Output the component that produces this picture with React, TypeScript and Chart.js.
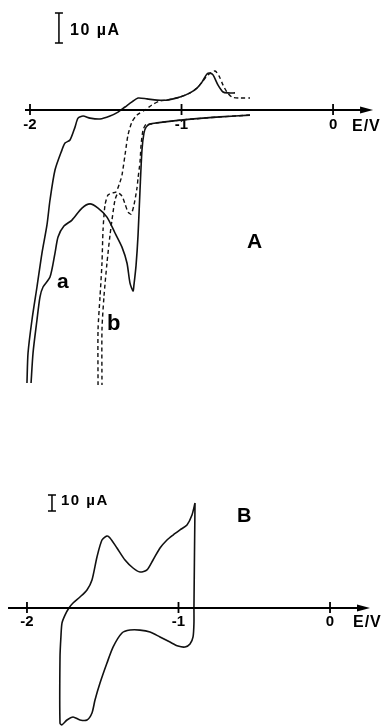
import React, { useEffect, useRef } from 'react';
import { Chart, registerables } from 'chart.js';

Chart.register(...registerables);

const FONT = '"Liberation Sans", Arial, Helvetica, sans-serif';

// Axis ticks (E / V)
const TICK_VALUES = [-2, -1, 0];
const TICK_LABELS = ['-2', '-1', '0'];

// ---------- Panel A ----------
// curve a (solid), cathodic scan
const A_CATH_E = [-0.548, -0.746, -0.990, -1.162, -1.208, -1.234, -1.248, -1.261, -1.274, -1.287, -1.300, -1.314, -1.320, -1.340, -1.360, -1.393, -1.439, -1.492, -1.551, -1.604, -1.657, -1.723, -1.776, -1.815, -1.835, -1.868, -1.914, -1.934, -1.954, -1.980, -1.993];
const A_CATH_I = [-1.7, -2.3, -3.3, -4.3, -4.7, -5.7, -7.7, -13.3, -26.7, -41.7, -51.7, -58.3, -60.3, -57.7, -51.0, -45.7, -41.0, -35.7, -32.7, -31.3, -32.7, -36.7, -38.7, -42.3, -47.7, -55.7, -59.0, -62.3, -70.0, -81.0, -91.0];
// curve a (solid), anodic scan
const A_ANOD_E = [-2.020, -2.013, -1.987, -1.954, -1.921, -1.888, -1.868, -1.835, -1.789, -1.769, -1.736, -1.703, -1.683, -1.650, -1.604, -1.538, -1.472, -1.419, -1.373, -1.327, -1.287, -1.228, -1.162, -1.096, -1.010, -0.944, -0.898, -0.865, -0.832, -0.812, -0.792, -0.759, -0.726, -0.693, -0.647];
const A_ANOD_I = [-91.0, -81.0, -70.0, -59.0, -47.7, -38.3, -30.0, -20.0, -13.3, -11.0, -10.0, -5.7, -2.7, -2.0, -2.7, -3.0, -2.0, -0.7, 1.0, 2.7, 4.0, 3.7, 3.3, 3.3, 4.3, 5.7, 7.3, 9.3, 12.0, 12.3, 11.7, 8.3, 6.0, 5.7, 5.7];
// curve b (dashed), cathodic scan
const B_CATH_E = [-0.548, -0.746, -0.990, -1.162, -1.208, -1.234, -1.254, -1.267, -1.274, -1.287, -1.294, -1.314, -1.333, -1.353, -1.373, -1.393, -1.419, -1.439, -1.459, -1.472, -1.492, -1.512, -1.525, -1.525];
const B_CATH_I = [-1.7, -2.3, -3.3, -4.3, -4.7, -4.7, -6.7, -11.7, -17.3, -22.7, -26.0, -31.7, -34.7, -34.0, -31.3, -28.7, -27.7, -30.0, -36.7, -41.7, -51.0, -62.3, -73.3, -91.7];
// curve b (dashed), anodic scan
const B_ANOD_E = [-1.551, -1.551, -1.538, -1.525, -1.518, -1.505, -1.485, -1.459, -1.432, -1.406, -1.393, -1.373, -1.353, -1.327, -1.294, -1.241, -1.195, -1.142, -1.096, -1.010, -0.944, -0.898, -0.858, -0.825, -0.779, -0.752, -0.726, -0.700, -0.667, -0.614, -0.548];
const B_ANOD_I = [-91.7, -73.3, -62.3, -51.0, -40.0, -31.7, -28.3, -27.7, -27.3, -24.0, -21.7, -15.0, -8.3, -4.0, -1.7, 0.0, 1.7, 3.0, 3.3, 4.3, 5.7, 7.3, 9.7, 11.7, 13.0, 11.3, 8.3, 6.0, 4.3, 4.0, 4.0];

// ---------- Panel B ----------
const LOOP_E = [-0.891, -0.911, -0.944, -0.990, -1.036, -1.076, -1.122, -1.168, -1.208, -1.254, -1.300, -1.353, -1.406, -1.452, -1.472, -1.505, -1.538, -1.571, -1.604, -1.650, -1.696, -1.723, -1.749, -1.769, -1.776, -1.782, -1.782, -1.769, -1.736, -1.696, -1.650, -1.604, -1.571, -1.551, -1.518, -1.472, -1.432, -1.373, -1.320, -1.254, -1.188, -1.122, -1.056, -1.003, -0.957, -0.924, -0.904, -0.898, -0.898, -0.891];
const LOOP_I = [65.6, 58.1, 51.9, 48.8, 45.6, 42.5, 37.5, 30.0, 23.8, 22.5, 25.0, 30.0, 37.5, 43.8, 45.0, 42.5, 31.9, 17.5, 11.3, 6.9, 3.1, 0.0, -4.4, -9.4, -18.1, -30.6, -72.0, -73.0, -70.0, -68.1, -70.0, -70.0, -65.6, -57.5, -46.9, -34.4, -24.4, -15.6, -13.8, -13.8, -15.0, -18.1, -21.3, -23.8, -24.4, -22.5, -18.1, -9.4, 0.6, 65.6];

const SCALE_BAR_UA = 10;

const pts = (es: number[], is: number[]) => es.map((e, i) => ({ x: e, y: is[i] }));

const axisDecor = {
  id: 'axisDecor',
  afterDraw(chart: any, _args: any, opts: any) {
    const { ctx } = chart;
    const x = chart.scales.x;
    const y = chart.scales.y;
    const y0 = y.getPixelForValue(0);
    ctx.save();
    ctx.strokeStyle = '#000';
    ctx.fillStyle = '#000';
    // axis line with arrow
    const xs = x.getPixelForValue(opts.axisFrom);
    const xe = x.getPixelForValue(opts.axisTo);
    ctx.lineWidth = 2;
    ctx.beginPath();
    ctx.moveTo(xs, y0);
    ctx.lineTo(xe - 8, y0);
    ctx.stroke();
    ctx.beginPath();
    ctx.moveTo(xe, y0);
    ctx.lineTo(xe - 13, y0 - 3.5);
    ctx.lineTo(xe - 13, y0 + 3.5);
    ctx.closePath();
    ctx.fill();
    // crossing tick marks
    ctx.lineWidth = 1.8;
    TICK_VALUES.forEach((v) => {
      const px = x.getPixelForValue(v);
      ctx.beginPath();
      ctx.moveTo(px, y0 - 6);
      ctx.lineTo(px, y0 + 5);
      ctx.stroke();
    });
    // current scale bar
    const bx = x.getPixelForValue(opts.barE);
    const bt = y.getPixelForValue(opts.barTop);
    const bb = y.getPixelForValue(opts.barTop - SCALE_BAR_UA);
    ctx.lineWidth = 1.5;
    ctx.beginPath();
    ctx.moveTo(bx, bt);
    ctx.lineTo(bx, bb);
    ctx.moveTo(bx - 4, bt);
    ctx.lineTo(bx + 4, bt);
    ctx.moveTo(bx - 4, bb);
    ctx.lineTo(bx + 4, bb);
    ctx.stroke();
    // text labels
    ctx.textBaseline = 'alphabetic';
    ctx.textAlign = 'left';
    (opts.labels || []).forEach((l: any) => {
      ctx.font = `bold ${l.size}px ${FONT}`;
      ctx.letterSpacing = l.spacing || '0px';
      ctx.fillText(l.text, l.x, l.y);
    });
    ctx.letterSpacing = '0px';
    ctx.restore();
  },
};

function makeConfig(p: any) {
  return {
    type: 'scatter',
    data: { datasets: p.datasets },
    options: {
      animation: false,
      responsive: false,
      maintainAspectRatio: false,
      layout: { padding: 0 },
      elements: { point: { radius: 0, hoverRadius: 0 } },
      plugins: {
        legend: { display: false },
        tooltip: { enabled: false },
        title: { display: false },
        axisDecor: p.decor,
      },
      scales: {
        x: {
          type: 'linear',
          min: p.xMin,
          max: p.xMax,
          position: { y: 0 },
          afterBuildTicks: (s: any) => {
            s.ticks = TICK_VALUES.map((v) => ({ value: v }));
          },
          grid: { display: false, drawTicks: false },
          border: { display: false },
          ticks: {
            color: '#000',
            padding: p.tickPad,
            maxRotation: 0,
            autoSkip: false,
            font: { family: FONT, size: 15, weight: 'bold' },
            callback: (v: number) => {
              const i = TICK_VALUES.indexOf(v);
              return i >= 0 ? TICK_LABELS[i] : '';
            },
          },
        },
        y: { type: 'linear', min: p.yMin, max: p.yMax, display: false },
      },
    },
    plugins: [axisDecor],
  };
}

const solid = (data: any[]) => ({
  data,
  showLine: true,
  fill: false,
  borderColor: '#111',
  borderWidth: 1.6,
  tension: 0.25,
  pointRadius: 0,
});
const dashed = (data: any[]) => ({ ...solid(data), borderDash: [4, 3], borderWidth: 1.4 });

function ChartCanvas({ cfg, width, height, top }: any) {
  const ref = useRef<HTMLCanvasElement | null>(null);
  useEffect(() => {
    if (!ref.current) return;
    const chart = new Chart(ref.current, cfg);
    return () => chart.destroy();
  }, []);
  return (
    <canvas
      ref={ref}
      width={width}
      height={height}
      style={{ position: 'absolute', left: 0, top, width, height, display: 'block' }}
    />
  );
}

export default function App() {
  const cfgA = makeConfig({
    xMin: -2.198,
    xMax: 0.356,
    yMin: -96.667,
    yMax: 36.667,
    tickPad: 6,
    datasets: [
      solid(pts(A_CATH_E, A_CATH_I)),
      solid(pts(A_ANOD_E, A_ANOD_I)),
      dashed(pts(B_CATH_E, B_CATH_I)),
      dashed(pts(B_ANOD_E, B_ANOD_I)),
    ],
    decor: {
      axisFrom: -2.033,
      axisTo: 0.264,
      barE: -1.809,
      barTop: 32.3,
      labels: [
        { text: '10 µA', x: 70, y: 35, size: 16, spacing: '1.5px' },
        { text: 'A', x: 247, y: 248, size: 21 },
        { text: 'a', x: 57, y: 288, size: 21 },
        { text: 'b', x: 107, y: 330, size: 22 },
        { text: 'E/V', x: 352, y: 131, size: 16, spacing: '1px' },
      ],
    },
  });
  const cfgB = makeConfig({
    xMin: -2.178,
    xMax: 0.376,
    yMin: -73.75,
    yMax: 130,
    tickPad: 5,
    datasets: [solid(pts(LOOP_E, LOOP_I))],
    decor: {
      axisFrom: -2.125,
      axisTo: 0.264,
      barE: -1.835,
      barTop: 70.6,
      labels: [
        { text: '10 µA', x: 61, y: 105, size: 15, spacing: '1.5px' },
        { text: 'B', x: 237, y: 122, size: 20 },
        { text: 'E/V', x: 353, y: 227, size: 16, spacing: '1px' },
      ],
    },
  });
  return (
    <div style={{ position: 'fixed', left: 0, top: 0, width: 387, height: 726, background: '#fff', overflow: 'hidden' }}>
      <ChartCanvas cfg={cfgA} width={387} height={400} top={0} />
      <ChartCanvas cfg={cfgB} width={387} height={326} top={400} />
    </div>
  );
}
